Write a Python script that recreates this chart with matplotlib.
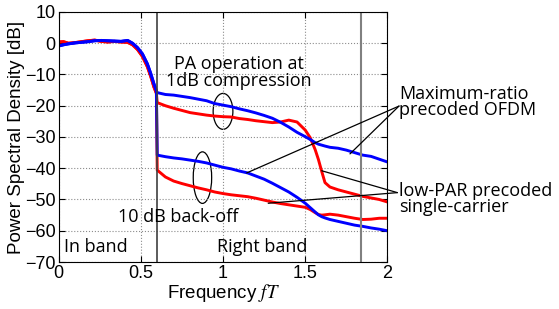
import matplotlib
matplotlib.use("Agg")
import matplotlib.pyplot as plt
from matplotlib.patches import Ellipse
import numpy as np

plt.rcParams["mathtext.fontset"] = "stix"

# in-band part (shared shape, slightly different for the two schemes)
f_in = [0.00, 0.03, 0.06, 0.10, 0.14, 0.18, 0.22, 0.26, 0.30, 0.34, 0.38,
        0.42, 0.45, 0.48, 0.51, 0.54, 0.56, 0.58, 0.595]
mrt_in = [-0.9, -0.5, -0.2, 0.1, 0.3, 0.5, 0.8, 0.9, 0.8, 0.7, 0.6,
          0.9, 0.0, -1.4, -3.4, -6.6, -9.6, -13.0, -15.2]
lp_in = [0.4, 0.5, 0.0, 0.2, 0.5, 0.8, 1.0, 0.6, 0.4, 0.6, 0.4,
         0.3, -0.5, -2.0, -4.2, -7.5, -10.5, -14.0, -16.0]

# out-of-band part
f_out = [0.60, 0.65, 0.70, 0.75, 0.80, 0.85, 0.90, 0.95, 1.00, 1.05, 1.10,
         1.15, 1.20, 1.25, 1.30, 1.35, 1.40, 1.45, 1.50, 1.53, 1.56, 1.58,
         1.60, 1.62, 1.65, 1.70, 1.75, 1.80, 1.85, 1.90, 1.95, 2.00]
mrt_1db = [-15.8, -16.4, -16.6, -17.0, -17.4, -17.9, -18.4, -19.3, -19.8, -20.3, -21.0,
           -21.6, -22.3, -23.1, -24.0, -25.3, -26.8, -28.5, -29.9, -30.8, -31.8, -32.3,
           -32.6, -32.9, -33.3, -33.6, -34.2, -35.0, -35.8, -36.2, -37.1, -38.0]
lp_1db = [-19.0, -20.0, -20.8, -21.5, -22.2, -22.6, -23.0, -23.3, -23.5, -23.6, -24.1,
          -24.4, -24.8, -25.1, -25.4, -25.2, -24.6, -25.2, -27.8, -30.2, -34.0, -37.2,
          -41.0, -44.6, -46.0, -46.9, -47.6, -48.3, -49.0, -49.5, -50.0, -50.8]
mrt_10db = [-35.8, -36.3, -36.7, -37.0, -37.4, -37.8, -38.3, -39.0, -39.7, -40.2, -40.9,
            -41.5, -42.5, -43.5, -44.8, -46.2, -47.6, -49.3, -51.2, -52.6, -54.0, -54.9,
            -55.5, -55.9, -56.4, -57.0, -57.6, -58.2, -58.6, -59.1, -59.5, -60.0]
lp_10db = [-40.6, -42.8, -44.1, -44.9, -45.6, -46.3, -46.9, -47.6, -48.1, -48.5, -48.8,
           -49.1, -49.6, -50.2, -50.8, -51.3, -51.7, -52.1, -52.5, -53.2, -54.2, -54.8,
           -55.0, -54.9, -54.7, -55.0, -55.5, -56.0, -56.4, -56.3, -56.0, -56.0]

band_edge = 0.6
right_edge = 1.84

annot_font = "Open Sans"
tick_font = "Liberation Sans"
fs = 13

fig = plt.figure(figsize=(5.59, 3.09), dpi=100)
ax = fig.add_axes([0.1047, 0.1521, 0.5885, 0.8091])

f_all = f_in + f_out
ax.plot(f_all, lp_in + lp_10db, color="red", lw=2.1)
ax.plot(f_all, lp_in + lp_1db, color="red", lw=2.1)
ax.plot(f_all, mrt_in + mrt_10db, color="blue", lw=2.1)
ax.plot(f_all, mrt_in + mrt_1db, color="blue", lw=2.1)

ax.axvline(band_edge, color="#404040", lw=1.2)
ax.axvline(right_edge, color="#808080", lw=1.5)

ax.set_xlim(0, 2)
ax.set_ylim(-70, 10)
ax.set_xticks([0, 0.5, 1, 1.5, 2])
ax.set_xticklabels(["0", "0.5", "1", "1.5", "2"])
ax.set_yticks(np.arange(-70, 11, 10))
ax.grid(True, linestyle=":", color="0.55", lw=0.8)
ax.tick_params(direction="in", top=True, right=True, length=4, pad=2)
for lab in ax.get_xticklabels() + ax.get_yticklabels():
    lab.set_fontfamily(tick_font)
    lab.set_fontsize(13)

ax.set_xlabel("Frequency $fT$", fontsize=13.5, family=tick_font, labelpad=0)
ax.set_ylabel("Power Spectral Density [dB]", fontsize=13.5, family=tick_font, labelpad=0)

# ellipses grouping the curve pairs
ax.add_patch(Ellipse((1.0, -21.8), 0.12, 11.5, fill=False, color="black", lw=0.9))
ax.add_patch(Ellipse((0.875, -43.0), 0.112, 16.5, fill=False, color="black", lw=0.9))

ax.text(1.097, -9.3, "PA operation at\n1dB compression", ha="center", va="center",
        fontsize=fs, family=annot_font, linespacing=0.9)
ax.text(0.73, -55.5, "10 dB back-off", ha="center", va="center",
        fontsize=fs, family=annot_font)
ax.text(0.035, -65.3, "In band", ha="left", va="center", fontsize=fs, family=annot_font)
ax.text(0.965, -65.3, "Right band", ha="left", va="center", fontsize=fs, family=annot_font)

# callouts
mrt_pt = (2.07, -20.1)
lp_pt = (2.06, -47.8)
for tgt in [(1.772, -35.4), (1.144, -41.5)]:
    ax.annotate("", xy=tgt, xytext=mrt_pt, annotation_clip=False,
                arrowprops=dict(arrowstyle="-", color="black", lw=0.9, shrinkA=0, shrinkB=0))
for tgt in [(1.60, -40.8), (1.275, -51.2)]:
    ax.annotate("", xy=tgt, xytext=lp_pt, annotation_clip=False,
                arrowprops=dict(arrowstyle="-", color="black", lw=0.9, shrinkA=0, shrinkB=0))

fig.text(399 / 559, 1 - 102 / 309, "Maximum-ratio\nprecoded OFDM", ha="left", va="center",
         fontsize=fs, family=annot_font, linespacing=0.9)
fig.text(399 / 559, 1 - 199 / 309, "low-PAR precoded\nsingle-carrier", ha="left", va="center",
         fontsize=fs, family=annot_font, linespacing=0.9)

fig.savefig("out.png", dpi=100)
